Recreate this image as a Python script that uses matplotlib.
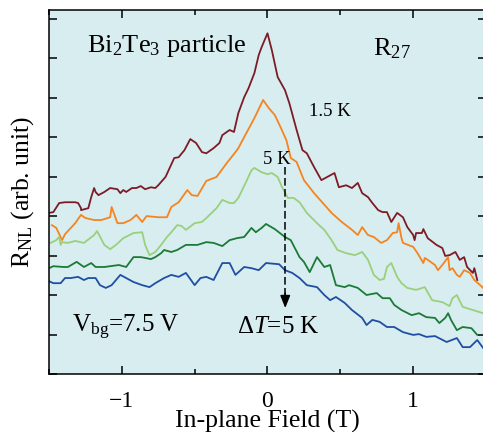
import matplotlib
matplotlib.use("Agg")
import matplotlib.pyplot as plt
from matplotlib.ticker import MultipleLocator

plt.rcParams['font.family'] = ['Liberation Serif', 'DejaVu Serif']
plt.rcParams['mathtext.fontset'] = 'custom'
plt.rcParams['mathtext.rm'] = 'Liberation Serif'
plt.rcParams['mathtext.it'] = 'Liberation Serif:italic'

# field sweeps (T) and nonlocal signal (arb. unit), one pair per temperature
field_15K = [-1.50, -1.47, -1.43, -1.39, -1.32, -1.30, -1.28, -1.28, -1.23, -1.21, -1.19, -1.18,
             -1.16, -1.12, -1.08, -1.03, -1.01, -0.99, -0.97, -0.93, -0.90, -0.87, -0.84, -0.80,
             -0.77, -0.75, -0.70, -0.64, -0.61, -0.57, -0.53, -0.49, -0.45, -0.42, -0.37, -0.33,
             -0.31, -0.26, -0.23, -0.20, -0.16, -0.13, -0.09, -0.06, -0.04, 0.00, 0.03, 0.07,
             0.12, 0.15, 0.20, 0.24, 0.27, 0.32, 0.37, 0.41, 0.46, 0.49, 0.54, 0.58, 0.62, 0.65,
             0.69, 0.72, 0.76, 0.79, 0.82, 0.85, 0.89, 0.93, 0.96, 1.00, 1.01, 1.02, 1.06, 1.07,
             1.10, 1.16, 1.20, 1.22, 1.25, 1.29, 1.32, 1.35, 1.37, 1.41, 1.42, 1.44]
rnl_15K = [4.08, 4.10, 4.33, 4.35, 4.35, 4.33, 4.20, 4.15, 4.20, 4.48, 4.71, 4.61,
           4.53, 4.61, 4.71, 4.68, 4.58, 4.66, 4.61, 4.71, 4.71, 4.76, 4.68, 4.73,
           4.71, 4.78, 4.99, 5.47, 5.49, 5.67, 5.95, 5.85, 5.62, 5.59, 5.72, 5.85,
           6.05, 6.18, 6.13, 6.61, 7.01, 7.24, 7.62, 8.08, 8.28, 8.63, 8.20, 7.52,
           7.19, 6.86, 6.18, 5.67, 5.59, 5.24, 4.91, 4.99, 5.09, 4.73, 4.78, 4.71, 4.84, 4.58,
           4.48, 4.33, 4.15, 4.10, 4.10, 3.85, 4.08, 3.97, 3.72, 3.52, 3.39, 3.57, 3.57, 3.67,
           3.44, 3.27, 3.19, 2.99, 3.01, 3.09, 2.89, 2.96, 2.71, 2.56, 2.68, 2.38]

field_2 = [-1.48, -1.45, -1.41, -1.39, -1.32, -1.28, -1.25, -1.19, -1.14, -1.08, -1.07, -1.03,
           -0.99, -0.94, -0.90, -0.86, -0.83, -0.75, -0.69, -0.66, -0.61, -0.55, -0.52, -0.48,
           -0.42, -0.35, -0.28, -0.22, -0.20, -0.16, -0.09, -0.03, 0.01, 0.05, 0.09, 0.13,
           0.16, 0.20, 0.25, 0.32, 0.38, 0.44, 0.51, 0.58, 0.62, 0.65, 0.69, 0.73, 0.78, 0.82,
           0.86, 0.89, 0.90, 0.92, 0.93, 1.00, 1.03, 1.07, 1.08, 1.10, 1.15, 1.17, 1.20, 1.24,
           1.25, 1.27, 1.30, 1.32, 1.35, 1.39, 1.42, 1.46, 1.48]
rnl_2 = [3.77, 3.70, 3.39, 3.54, 3.82, 4.03, 3.95, 3.90, 3.90, 3.97, 4.23, 3.82,
         3.82, 3.90, 4.03, 3.85, 4.00, 3.97, 3.97, 4.23, 4.35, 4.66, 4.53, 4.51,
         4.89, 4.99, 5.34, 5.62, 5.72, 6.00, 6.48, 6.94, 6.73, 6.56, 6.25, 5.92,
         5.47, 5.37, 4.91, 4.58, 4.33, 4.08, 3.85, 3.65, 3.52, 3.72, 3.52, 3.47, 3.32, 3.39,
         3.57, 3.59, 3.82, 3.44, 3.32, 3.22, 3.06, 2.81, 2.94, 2.89, 2.76, 2.63, 2.76, 2.96,
         2.63, 2.68, 2.51, 2.46, 2.63, 2.56, 2.38, 2.25, 2.18]

field_5K = [-1.49, -1.45, -1.43, -1.42, -1.41, -1.37, -1.32, -1.26, -1.19, -1.17, -1.12, -1.08,
            -1.04, -0.99, -0.92, -0.86, -0.84, -0.81, -0.77, -0.73, -0.69, -0.66, -0.62, -0.59,
            -0.56, -0.50, -0.45, -0.42, -0.35, -0.31, -0.26, -0.23, -0.20, -0.15, -0.11, -0.09,
            -0.04, 0.00, 0.03, 0.07, 0.10, 0.14, 0.18, 0.22, 0.27, 0.34, 0.39, 0.44, 0.48, 0.54,
            0.60, 0.65, 0.69, 0.73, 0.77, 0.80, 0.82, 0.85, 0.89, 0.92, 0.96, 1.02, 1.08, 1.13,
            1.20, 1.25, 1.27, 1.30, 1.34, 1.41, 1.48]
rnl_5K = [3.32, 3.39, 3.47, 3.27, 3.34, 3.32, 3.37, 3.32, 3.52, 3.62, 3.27, 3.16,
          3.27, 3.44, 3.57, 3.59, 3.27, 3.01, 3.09, 3.27, 3.47, 3.59, 3.77, 3.75,
          3.65, 3.82, 3.85, 3.95, 4.20, 4.41, 4.33, 4.33, 4.46, 4.84, 5.16, 5.22,
          5.11, 5.06, 5.09, 4.99, 4.73, 4.46, 4.46, 4.35, 4.08, 3.82, 3.65, 3.39, 3.14, 3.06,
          3.01, 3.09, 2.89, 2.51, 2.38, 2.41, 2.71, 2.81, 2.46, 2.30, 2.18, 2.13, 2.20, 1.87,
          1.82, 1.72, 1.92, 2.00, 1.70, 1.62, 1.54]

field_4 = [-1.50, -1.47, -1.40, -1.37, -1.31, -1.26, -1.21, -1.18, -1.12, -1.08, -1.02, -0.97,
           -0.92, -0.87, -0.84, -0.80, -0.77, -0.73, -0.71, -0.66, -0.62, -0.56, -0.48, -0.42,
           -0.37, -0.31, -0.26, -0.21, -0.16, -0.11, -0.08, -0.04, -0.01, 0.05, 0.12, 0.16,
           0.22, 0.25, 0.29, 0.34, 0.39, 0.43, 0.47, 0.53, 0.56, 0.62, 0.68, 0.75, 0.79, 0.84,
           0.87, 0.92, 0.99, 1.04, 1.09, 1.15, 1.18, 1.22, 1.24, 1.26, 1.30, 1.34, 1.40, 1.44]
rnl_4 = [2.68, 2.73, 2.71, 2.71, 2.84, 2.71, 2.81, 2.71, 2.71, 2.73, 2.76, 2.71,
         2.96, 2.96, 2.94, 2.91, 2.96, 3.06, 3.14, 3.09, 3.14, 3.27, 3.27, 3.34,
         3.32, 3.24, 3.39, 3.44, 3.47, 3.70, 3.59, 3.70, 3.80, 3.67, 3.47, 3.39,
         2.96, 2.84, 2.58, 2.96, 2.71, 2.76, 2.25, 2.20, 2.25, 2.18, 2.00, 2.05, 1.92, 1.92,
         1.75, 1.62, 1.49, 1.54, 1.44, 1.42, 1.29, 1.42, 1.54, 1.37, 1.11, 1.19, 1.16, 0.99]

field_5 = [-1.50, -1.47, -1.42, -1.39, -1.35, -1.30, -1.26, -1.23, -1.18, -1.15, -1.11, -1.07,
           -1.01, -0.97, -0.92, -0.86, -0.81, -0.77, -0.71, -0.66, -0.61, -0.56, -0.50, -0.46,
           -0.42, -0.37, -0.31, -0.26, -0.22, -0.16, -0.11, -0.06, -0.01, 0.08, 0.12, 0.17,
           0.22, 0.27, 0.34, 0.39, 0.43, 0.47, 0.53, 0.58, 0.65, 0.68, 0.72, 0.77, 0.82, 0.87,
           0.93, 1.00, 1.04, 1.09, 1.15, 1.23, 1.30, 1.34, 1.39, 1.44, 1.48]
rnl_5 = [2.35, 2.30, 2.30, 2.43, 2.43, 2.46, 2.38, 2.43, 2.43, 2.25, 2.18, 2.25,
         2.51, 2.43, 2.33, 2.25, 2.20, 2.30, 2.43, 2.51, 2.46, 2.56, 2.25, 2.43,
         2.46, 2.38, 2.81, 2.81, 2.51, 2.71, 2.68, 2.63, 2.81, 2.78, 2.63, 2.56,
         2.43, 2.25, 2.20, 2.00, 1.87, 1.95, 1.80, 1.62, 1.42, 1.24, 1.37, 1.32, 1.19, 1.19,
         1.06, 0.99, 1.01, 0.94, 0.96, 0.81, 0.91, 0.68, 0.68, 0.86, 0.66]

curves = [
    (field_15K, rnl_15K, '#7d1b26'),
    (field_2, rnl_2, '#f5841f'),
    (field_5K, rnl_5K, '#9ad07c'),
    (field_4, rnl_4, '#1b7a36'),
    (field_5, rnl_5, '#1f4ea3'),
]

fig = plt.figure(figsize=(4.83, 4.32), dpi=100)
ax = fig.add_axes([0.1014, 0.1343, 0.9048, 0.8426])
ax.set_facecolor('#d8edf0')

for fx, ry, col in curves:
    ax.plot(fx, ry, color=col, lw=1.3)

# dashed arrow: signal drop for a 5 K temperature step
arrow_x = 0.122
ax.plot([arrow_x, arrow_x], [5.24, 2.0], color='black', lw=1.1, ls=(0, (5, 2.2)))
ax.annotate('', xy=(arrow_x, 1.67), xytext=(arrow_x, 2.05),
            arrowprops=dict(arrowstyle='-|>,head_length=0.75,head_width=0.3',
                            color='black', lw=1.1, shrinkA=0, shrinkB=0))

ax.set_xlim(-1.5, 1.5)
ax.set_ylim(0, 9.22)
ax.xaxis.set_major_locator(MultipleLocator(1))
ax.xaxis.set_minor_locator(MultipleLocator(0.5))
ax.yaxis.set_major_locator(MultipleLocator(1))
ax.set_yticklabels([])
ax.tick_params(which='both', direction='in', top=True, right=True, width=1.1)
ax.tick_params(which='major', length=6)
ax.tick_params(which='minor', length=3.5)
ax.tick_params(axis='x', labelsize=17, pad=12)
for sp in ax.spines.values():
    sp.set_linewidth(1.1)

ax.set_xlabel('In-plane Field (T)', fontsize=18.5, labelpad=-1)
ax.set_ylabel('R$_{\\rm NL}$ (arb. unit)', fontsize=18.5, labelpad=6)

ax.text(0.087, 0.885, 'Bi$_2$Te$_3$ particle', transform=ax.transAxes, fontsize=19, va='baseline')
ax.text(0.741, 0.876, 'R$_{27}$', transform=ax.transAxes, fontsize=19, va='baseline')
ax.text(0.595, 0.709, '1.5 K', transform=ax.transAxes, fontsize=13.5, va='baseline')
ax.text(0.490, 0.577, '5 K', transform=ax.transAxes, fontsize=13.5, va='baseline')
ax.text(0.053, 0.113, 'V$_{\\rm bg}$=7.5 V', transform=ax.transAxes, fontsize=18, va='baseline')
ax.text(0.430, 0.113, 'Δ$T$=5 K', transform=ax.transAxes, fontsize=18, va='baseline')

fig.savefig('out.png', dpi=100)
